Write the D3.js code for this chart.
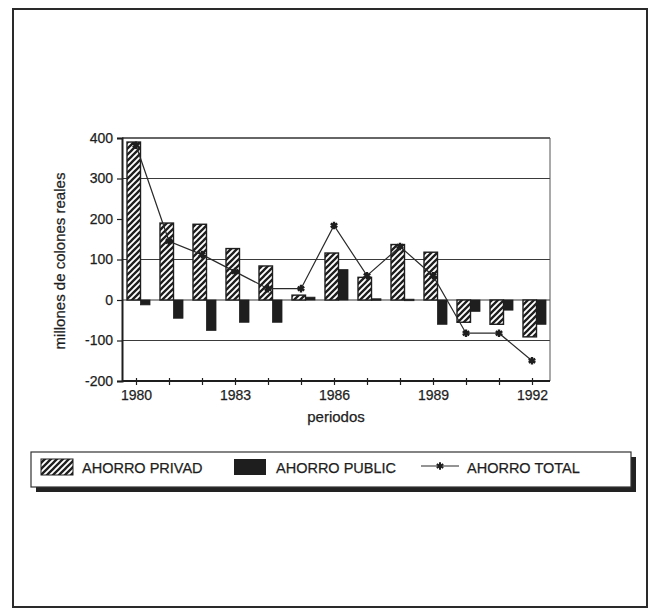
<!DOCTYPE html>
<html>
<head>
<meta charset="utf-8">
<script src="https://cdn.jsdelivr.net/npm/d3@7/dist/d3.min.js"></script>
<style>
html,body{margin:0;padding:0;background:#fff;}
svg{display:block;}
text{font-family:"Liberation Sans",Arial,Helvetica,sans-serif;fill:#1e1e1e;stroke:#1e1e1e;stroke-width:0.25px;}
</style>
</head>
<body>
<svg id="chart" width="658" height="613"></svg>
<script>
const years = [1980,1981,1982,1983,1984,1985,1986,1987,1988,1989,1990,1991,1992];
const ahorroPrivado = [390,190,187,127,84,12,116,56,137,118,-55,-60,-91];
const ahorroPublico = [-12,-45,-75,-55,-55,7,75,3,2,-60,-28,-25,-60];
const ahorroTotal = [382,145,112,70,28,28,184,60,132,60,-82,-82,-150];
const yTicks = [-200,-100,0,100,200,300,400];
const xTickLabels = [1980,1983,1986,1989,1992];
const gridValues = [300,100,0,-100];
const seriesNames = ["AHORRO PRIVAD","AHORRO PUBLIC","AHORRO TOTAL"];

const svg = d3.select("#chart");
const ink = "#1e1e1e";
const FONT = "'Liberation Sans',Arial,sans-serif";

// hatch pattern
const defs = svg.append("defs");
const S = 6;
const pat = defs.append("pattern").attr("id","hatch")
  .attr("patternUnits","userSpaceOnUse").attr("width",S).attr("height",S);
pat.append("rect").attr("width",S).attr("height",S).attr("fill","#fff");
pat.append("path").attr("d",`M-1,1 l2,-2 M0,${S} l${S},-${S} M${S-1},${S+1} l2,-2`)
  .attr("stroke",ink).attr("stroke-width",2.3);

// outer frame
svg.append("rect").attr("x",13).attr("y",9).attr("width",634).attr("height",598)
  .attr("fill","none").attr("stroke","#2a2a2a").attr("stroke-width",2);

const L = 122, R = 550, T = 138, B = 381;
const x = d3.scalePoint().domain(years).range([136,532]);
const y = d3.scaleLinear().domain([-200,400]).range([B,T]);

// grid lines
svg.append("g").selectAll("line").data(gridValues).join("line")
  .attr("x1",L).attr("x2",R).attr("y1",d=>y(d)).attr("y2",d=>y(d))
  .attr("stroke","#3a3a3a").attr("stroke-width",1.2);

// frame top/right
svg.append("line").attr("x1",L).attr("x2",R).attr("y1",T).attr("y2",T).attr("stroke","#333").attr("stroke-width",1.4);
svg.append("line").attr("x1",R).attr("x2",R).attr("y1",T).attr("y2",B).attr("stroke","#555").attr("stroke-width",1);

// bars
const data = years.map((yr,i)=>({yr, p:ahorroPrivado[i], g:ahorroPublico[i], t:ahorroTotal[i]}));
svg.append("g").selectAll("rect").data(data).join("rect")
  .attr("x",d=>x(d.yr)-9).attr("width",13.5)
  .attr("y",d=>y(Math.max(0,d.p))).attr("height",d=>Math.abs(y(d.p)-y(0)))
  .attr("fill","url(#hatch)").attr("stroke",ink).attr("stroke-width",1.4);
svg.append("g").selectAll("rect").data(data).join("rect")
  .attr("x",d=>x(d.yr)+4.5).attr("width",9.5)
  .attr("y",d=>y(Math.max(0,d.g))).attr("height",d=>Math.max(1.5,Math.abs(y(d.g)-y(0))))
  .attr("fill",ink).attr("stroke",ink).attr("stroke-width",0.8);

// line total
const line = d3.line().x(d=>x(d.yr)).y(d=>y(d.t));
svg.append("path").datum(data).attr("d",line).attr("fill","none")
  .attr("stroke","#2a2a2a").attr("stroke-width",1.2);
const star = d3.symbol().type(d3.symbolAsterisk).size(40);
svg.append("g").selectAll("path").data(data).join("path")
  .attr("transform",d=>`translate(${x(d.yr)},${y(d.t)})`)
  .attr("d",star()).attr("fill","none").attr("stroke",ink).attr("stroke-width",2.4);

// axes
const yAxis = d3.axisLeft(y).tickValues(yTicks).tickSize(5).tickPadding(4).tickFormat(d=>String(d));
const gy = svg.append("g").attr("transform",`translate(${L},0)`).call(yAxis);
gy.select(".domain").attr("stroke",ink).attr("stroke-width",2);
gy.selectAll(".tick line").attr("stroke",ink).attr("stroke-width",1.2);
gy.selectAll("text").attr("font-size",14).attr("fill",ink).style("font-family",FONT);

const xAxis = d3.axisBottom(x).tickValues(years).tickSize(4).tickPadding(5)
  .tickFormat(d=>xTickLabels.includes(d)?String(d):"");
const gx = svg.append("g").attr("transform",`translate(0,${B})`).call(xAxis);
gx.select(".domain").attr("d",`M${L},0H${R}`).attr("stroke",ink).attr("stroke-width",2);
gx.selectAll(".tick line").attr("stroke",ink).attr("stroke-width",1.2).attr("y1",-3);
gx.selectAll("text").attr("font-size",14).attr("fill",ink).style("font-family",FONT);

// axis titles
svg.append("text").attr("x",336).attr("y",422).attr("text-anchor","middle")
  .attr("font-size",15).text("periodos");
svg.append("text").attr("transform","translate(65,261) rotate(-90)").attr("text-anchor","middle")
  .attr("font-size",15).text("millones de colones reales");

// legend
svg.append("rect").attr("x",36).attr("y",457).attr("width",600).attr("height",35).attr("fill","#222");
svg.append("rect").attr("x",31).attr("y",452).attr("width",600).attr("height",35)
  .attr("fill","#fff").attr("stroke","#333").attr("stroke-width",1.2);
svg.append("rect").attr("x",41).attr("y",459).attr("width",32).attr("height",16)
  .attr("fill","url(#hatch)").attr("stroke",ink).attr("stroke-width",1);
svg.append("text").attr("x",82).attr("y",473).attr("font-size",14.5).text(seriesNames[0]);
svg.append("rect").attr("x",234).attr("y",459).attr("width",32).attr("height",16).attr("fill",ink);
svg.append("text").attr("x",276).attr("y",473).attr("font-size",14.5).text(seriesNames[1]);
svg.append("line").attr("x1",421).attr("x2",459).attr("y1",466).attr("y2",466).attr("stroke","#2a2a2a").attr("stroke-width",1.2);
svg.append("path").attr("transform","translate(440,466)").attr("d",star()).attr("fill","none").attr("stroke",ink).attr("stroke-width",2);
svg.append("text").attr("x",467).attr("y",473).attr("font-size",14.5).text(seriesNames[2]);
</script>
</body>
</html>
